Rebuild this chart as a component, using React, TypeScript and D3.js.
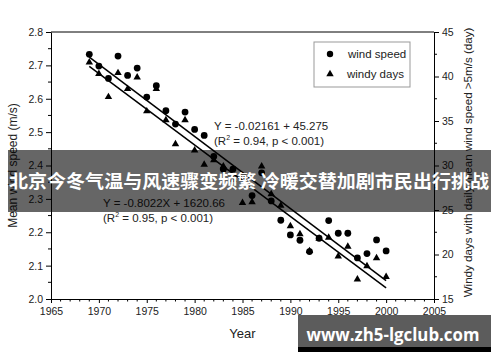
import React, { useEffect, useRef } from "react";
import * as d3 from "d3";

const years = [
  1969, 1970, 1971, 1972, 1973, 1974, 1975, 1976, 1977, 1978, 1979, 1980, 1981, 1982, 1983, 1984,
  1985, 1986, 1987, 1988, 1989, 1990, 1991, 1992, 1993, 1994, 1995, 1996, 1997, 1998, 1999, 2000,
];
// mean wind speed (m/s), left axis
const windSpeed = [
  2.733, 2.698, 2.661, 2.728, 2.67, 2.692, 2.605, 2.639, 2.564, 2.524, 2.56, 2.508, 2.49, 2.427, 2.389, 2.389,
  2.366, 2.31, 2.378, 2.294, 2.236, 2.192, 2.176, 2.142, 2.182, 2.235, 2.197, 2.197, 2.123, 2.136, 2.177, 2.144,
];
// windy days (day), right axis
const windyDays = [
  41.6, 40.3, 37.7, 40.4, 38.6, 39.9, 36.1, 38.6, 35.1, 32.4, 35.1, 31.7, 30.1, 30.6, 29.9, 28.4,
  25.8, 25.9, 29.9, 26.8, 25.5, 23.2, 22.3, 20.4, 21.8, 21.9, 19.8, 20.9, 17.2, 18.7, 19.6, 17.5,
];
// regression fits as printed
const speedFit = { slope: -0.02161, intercept: 45.275 };
const daysFit = { slope: -0.8022, intercept: 1620.66 };

const xTicks = [1965, 1970, 1975, 1980, 1985, 1990, 1995, 2000, 2005];
const leftTicks = [2.0, 2.1, 2.2, 2.3, 2.4, 2.5, 2.6, 2.7, 2.8];
const rightTicks = [15, 20, 25, 30, 35, 40, 45];

const bannerText = "北京今冬气温与风速骤变频繁 冷暖交替加剧市民出行挑战";
const watermark = "www.zh5-lgclub.com";

const App = () => {
  const ref = useRef<SVGSVGElement>(null);

  useEffect(() => {
    document.body.style.margin = "0";
    const svg = d3.select(ref.current);
    svg.selectAll("*").remove();

    const left = 51, right = 434, top = 32, bottom = 299;
    const font = "'Liberation Sans', Arial, sans-serif";

    const x = d3.scaleLinear().domain([1965, 2005]).range([left, right]);
    const yL = d3.scaleLinear().domain([2.0, 2.8]).range([bottom, top]);
    const yR = d3.scaleLinear().domain([15, 45]).range([bottom, top]);

    const g = svg.append("g").attr("font-family", font);

    // frame top line
    g.append("line")
      .attr("x1", left).attr("x2", right).attr("y1", top).attr("y2", top)
      .attr("stroke", "#000").attr("stroke-width", 1);

    // axes
    const ax = g.append("g").attr("transform", `translate(0,${bottom})`)
      .call(d3.axisBottom(x).tickValues(xTicks).tickFormat(d3.format("d")).tickSize(4).tickSizeOuter(0));
    ax.append("g").selectAll("line")
      .data(d3.range(1965, 2006).filter(v => v % 5 !== 0))
      .join("line")
      .attr("x1", d => x(d)).attr("x2", d => x(d)).attr("y1", 0).attr("y2", 2.5)
      .attr("stroke", "#000");

    const al = g.append("g").attr("transform", `translate(${left},0)`)
      .call(d3.axisLeft(yL).tickValues(leftTicks).tickFormat(d3.format(".1f")).tickSize(5).tickSizeOuter(0));
    al.append("g").selectAll("line")
      .data(leftTicks.slice(0, -1).map(v => v + 0.05))
      .join("line")
      .attr("x1", 0).attr("x2", -3).attr("y1", d => yL(d)).attr("y2", d => yL(d))
      .attr("stroke", "#000");

    const ar = g.append("g").attr("transform", `translate(${right},0)`)
      .call(d3.axisRight(yR).tickValues(rightTicks).tickSize(5).tickSizeOuter(0));
    ar.append("g").selectAll("line")
      .data(rightTicks.slice(0, -1).map(v => v + 2.5))
      .join("line")
      .attr("x1", 0).attr("x2", 3).attr("y1", d => yR(d)).attr("y2", d => yR(d))
      .attr("stroke", "#000");

    [ax, al, ar].forEach(a => {
      a.selectAll("text").attr("font-size", 10.5).attr("font-family", font).attr("fill", "#222");
      a.select(".domain").attr("stroke", "#000");
    });
    ax.selectAll(".tick text").attr("dy", "0.9em");

    // axis titles
    g.append("text")
      .attr("x", x(1985)).attr("y", 338)
      .attr("text-anchor", "middle").attr("font-size", 13).attr("fill", "#222")
      .text("Year");
    g.append("text")
      .attr("transform", `translate(17,${(top + bottom) / 2}) rotate(-90)`)
      .attr("text-anchor", "middle").attr("font-size", 12).attr("fill", "#222")
      .text("Mean wind speed (m/s)");
    g.append("text")
      .attr("transform", `translate(472,${(top + bottom) / 2 - 3}) rotate(-90)`)
      .attr("text-anchor", "middle").attr("font-size", 11.6).attr("fill", "#222")
      .text("Windy days with daily mean wind speed >5m/s (day)");

    // regression lines
    const ends = [years[0], years[years.length - 1]];
    g.append("line")
      .attr("x1", x(ends[0])).attr("x2", x(ends[1]))
      .attr("y1", yL(speedFit.slope * ends[0] + speedFit.intercept))
      .attr("y2", yL(speedFit.slope * ends[1] + speedFit.intercept))
      .attr("stroke", "#000").attr("stroke-width", 1.5);
    g.append("line")
      .attr("x1", x(ends[0])).attr("x2", x(ends[1]))
      .attr("y1", yR(daysFit.slope * ends[0] + daysFit.intercept))
      .attr("y2", yR(daysFit.slope * ends[1] + daysFit.intercept))
      .attr("stroke", "#000").attr("stroke-width", 1.5);

    // points
    const tri = d3.symbol(d3.symbolTriangle, 24);
    g.append("g").selectAll("path")
      .data(years)
      .join("path")
      .attr("d", tri)
      .attr("transform", (d, i) => `translate(${x(d)},${yR(windyDays[i])})`)
      .attr("fill", "#000");
    g.append("g").selectAll("circle")
      .data(years)
      .join("circle")
      .attr("cx", d => x(d))
      .attr("cy", (d, i) => yL(windSpeed[i]))
      .attr("r", 3.4)
      .attr("fill", "#000");

    // annotations
    const annot = (x0: number, y0: number, eq: string, r2: string) => {
      g.append("text").attr("x", x0).attr("y", y0).attr("font-size", 11.5).attr("fill", "#222").text(eq);
      const t = g.append("text").attr("x", x0).attr("y", y0 + 15).attr("font-size", 11.5).attr("fill", "#222");
      t.append("tspan").text("(R");
      t.append("tspan").attr("font-size", 7).attr("dy", -5).text("2");
      t.append("tspan").attr("dy", 5).text(` = ${r2}, p < 0.001)`);
    };
    annot(214, 130, "Y = -0.02161 + 45.275", "0.94");
    annot(103, 207, "Y = -0.8022X + 1620.66", "0.95");

    // legend
    const lg = g.append("g");
    lg.append("rect")
      .attr("x", 314).attr("y", 42).attr("width", 96).attr("height", 45)
      .attr("fill", "#fff").attr("stroke", "#999").attr("stroke-width", 1);
    lg.append("circle").attr("cx", 330).attr("cy", 54).attr("r", 3.2).attr("fill", "#000");
    lg.append("path").attr("d", tri).attr("transform", "translate(330,74)").attr("fill", "#000");
    lg.append("text").attr("x", 348).attr("y", 58).attr("font-size", 11.5).attr("fill", "#222").text("wind speed");
    lg.append("text").attr("x", 347).attr("y", 78).attr("font-size", 11.5).attr("fill", "#222").text("windy days");

    // overlay banner
    svg.append("rect")
      .attr("x", 8).attr("y", 150).attr("width", 483).attr("height", 62)
      .attr("fill", "#000").attr("fill-opacity", 0.6);
    svg.append("text")
      .attr("x", 249).attr("y", 188)
      .attr("text-anchor", "middle")
      .attr("font-family", "'Noto Sans CJK SC', sans-serif")
      .attr("font-weight", 700).attr("font-size", 18.3)
      .attr("textLength", 480).attr("lengthAdjust", "spacingAndGlyphs")
      .attr("fill", "#fff")
      .text(bannerText);

    // watermark
    svg.append("rect")
      .attr("x", 298).attr("y", 346).attr("width", 193).attr("height", 6)
      .attr("fill", "#000");
    svg.append("rect")
      .attr("x", 298).attr("y", 315).attr("width", 193).attr("height", 32)
      .attr("fill", "#5c5c5c");
    svg.append("text")
      .attr("x", 393).attr("y", 341)
      .attr("text-anchor", "middle")
      .attr("font-family", "'Open Sans', 'DejaVu Sans', sans-serif")
      .attr("font-weight", 700).attr("font-size", 17)
      .attr("textLength", 173).attr("lengthAdjust", "spacingAndGlyphs")
      .attr("fill", "#fff")
      .text(watermark);
  }, []);

  return (
    <svg
      ref={ref}
      width={500}
      height={362}
      style={{ display: "block", position: "absolute", left: 0, top: 0, background: "#fff" }}
    />
  );
};

export default App;
